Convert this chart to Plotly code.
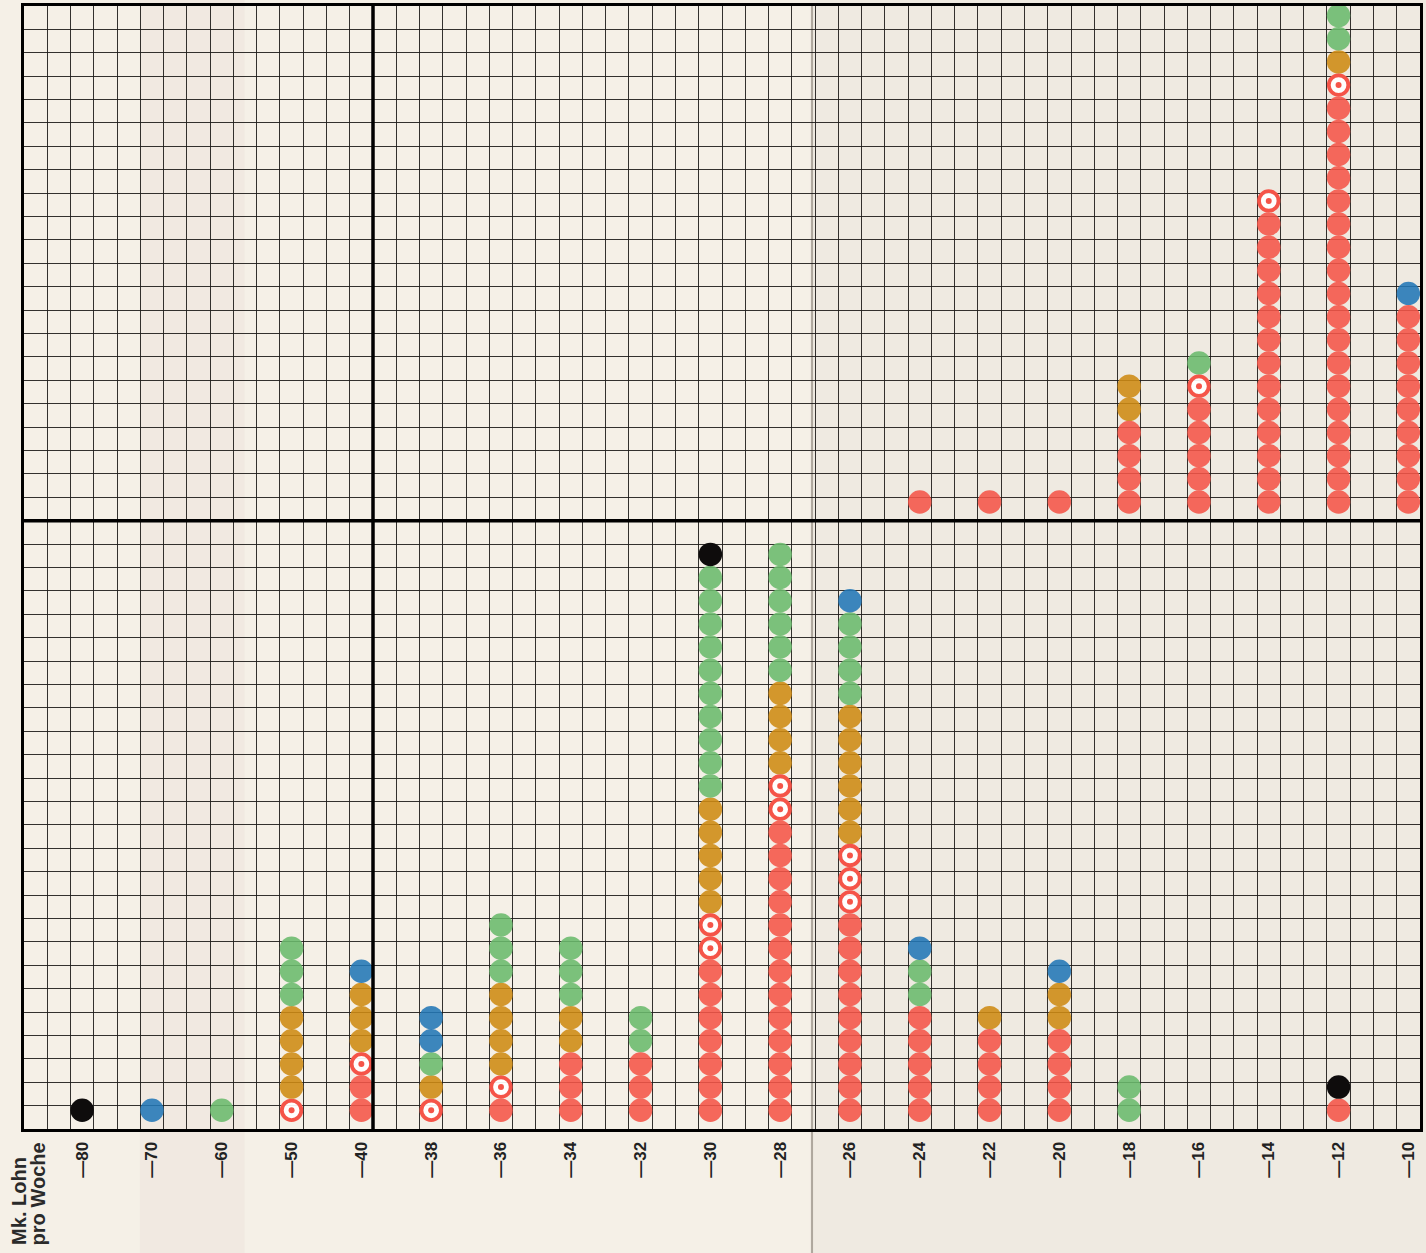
import plotly.graph_objects as go

# wage classes (Mk. per week), one column each
wages = ['80', '70', '60', '50', '40', '38', '36', '34', '32', '30',
         '28', '26', '24', '22', '20', '18', '16', '14', '12', '10']
tick_text = ['—' + w for w in wages]

# lower panel: number of dots per column, stacked bottom -> top in this order
low_red    = [0, 0, 0, 0, 2, 0, 1, 3, 3, 7, 13, 9, 5, 4, 4, 0, 0, 0, 1, 0]
low_ring   = [0, 0, 0, 1, 1, 1, 1, 0, 0, 2, 2, 3, 0, 0, 0, 0, 0, 0, 0, 0]
low_orange = [0, 0, 0, 4, 3, 1, 4, 2, 0, 5, 4, 6, 0, 1, 2, 0, 0, 0, 0, 0]
low_green  = [0, 0, 1, 3, 0, 1, 3, 3, 2, 10, 6, 4, 2, 0, 0, 2, 0, 0, 0, 0]
low_blue   = [0, 1, 0, 0, 1, 2, 0, 0, 0, 0, 0, 1, 1, 0, 1, 0, 0, 0, 0, 0]
low_black  = [1, 0, 0, 0, 0, 0, 0, 0, 0, 1, 0, 0, 0, 0, 0, 0, 0, 0, 1, 0]

# upper panel (stacks start on the heavy horizontal line)
up_red    = [0, 0, 0, 0, 0, 0, 0, 0, 0, 0, 0, 0, 1, 1, 1, 4, 5, 13, 18, 9]
up_ring   = [0, 0, 0, 0, 0, 0, 0, 0, 0, 0, 0, 0, 0, 0, 0, 0, 1, 1, 1, 0]
up_orange = [0, 0, 0, 0, 0, 0, 0, 0, 0, 0, 0, 0, 0, 0, 0, 2, 0, 0, 1, 0]
up_green  = [0, 0, 0, 0, 0, 0, 0, 0, 0, 0, 0, 0, 0, 0, 0, 0, 1, 0, 2, 0]
up_blue   = [0, 0, 0, 0, 0, 0, 0, 0, 0, 0, 0, 0, 0, 0, 0, 0, 0, 0, 0, 1]
up_black  = [0, 0, 0, 0, 0, 0, 0, 0, 0, 0, 0, 0, 0, 0, 0, 0, 0, 0, 0, 0]

RED = 'rgb(245,84,72)'
colors = {
    'red': RED,
    'ring': RED,
    'orange': 'rgb(206,138,18)',
    'green': 'rgb(106,186,108)',
    'blue': 'rgb(34,118,182)',
    'black': 'rgb(14,12,12)',
}
order = ['red', 'ring', 'orange', 'green', 'blue', 'black']

N_COLS, N_ROWS, SPLIT_COL, SPLIT_ROW = 60, 48, 15, 26
PITCH, LIFT = 0.99, 0.8
col_x = [2.5 + 3 * i for i in range(len(wages))]

panels = [
    (0, dict(red=low_red, ring=low_ring, orange=low_orange, green=low_green,
             blue=low_blue, black=low_black)),
    (SPLIT_ROW, dict(red=up_red, ring=up_ring, orange=up_orange, green=up_green,
                     blue=up_blue, black=up_black)),
]

pts = {k: ([], []) for k in order}
for base, counts in panels:
    for i, x in enumerate(col_x):
        k = 0
        for cat in order:
            for _ in range(counts[cat][i]):
                pts[cat][0].append(x)
                pts[cat][1].append(base + LIFT + k * PITCH)
                k += 1

fig = go.Figure()

for cat in ['orange', 'green', 'blue', 'red']:
    fig.add_trace(go.Scatter(
        x=pts[cat][0], y=pts[cat][1], mode='markers', name=cat,
        marker=dict(size=23.5, color=colors[cat], opacity=0.88, line=dict(width=0)),
        hoverinfo='skip'))

# ringed markers: white disc, red ring, red centre
fig.add_trace(go.Scatter(
    x=pts['ring'][0], y=pts['ring'][1], mode='markers', name='ring',
    marker=dict(size=19.5, color='rgba(255,255,255,0.92)', line=dict(color=RED, width=3.8)),
    hoverinfo='skip'))
fig.add_trace(go.Scatter(
    x=pts['ring'][0], y=pts['ring'][1], mode='markers', name='ring centre',
    marker=dict(size=6, color=RED, line=dict(width=0)), hoverinfo='skip'))

fig.add_trace(go.Scatter(
    x=pts['black'][0], y=pts['black'][1], mode='markers', name='black',
    marker=dict(size=23.5, color=colors['black'], line=dict(width=0)),
    hoverinfo='skip'))

# paper tones: right-hand page slightly greyer, faint pinkish band on the left
fig.add_shape(type='rect', xref='paper', yref='paper', x0=0.563, x1=1.01,
              y0=-0.12, y1=1.01, fillcolor='#efeae1', line_width=0, layer='below')
fig.add_shape(type='rect', xref='paper', yref='paper', x0=0.083, x1=0.158,
              y0=-0.12, y1=1.01, fillcolor='rgba(226,200,190,0.16)', line_width=0,
              layer='below')
fig.add_shape(type='line', xref='paper', yref='paper', x0=0.5645, x1=0.5645,
              y0=-0.12, y1=1.0, line=dict(color='rgba(110,100,90,0.5)', width=2),
              layer='below')

# heavy dividing lines
fig.add_shape(type='line', x0=SPLIT_COL, x1=SPLIT_COL, y0=0, y1=N_ROWS,
              line=dict(color='black', width=3.5), layer='above')
fig.add_shape(type='line', x0=0, x1=N_COLS, y0=SPLIT_ROW, y1=SPLIT_ROW,
              line=dict(color='black', width=3.5), layer='above')

label_font = dict(family='Liberation Sans, Arial, sans-serif', size=20,
                  color='#2a2a2a', weight='bold')
fig.add_annotation(text='Mk. Lohn', xref='paper', yref='paper', x=-0.0036, y=-0.105,
                   xanchor='center', yanchor='bottom', textangle=-90,
                   showarrow=False, font=label_font)
fig.add_annotation(text='pro Woche', xref='paper', yref='paper', x=0.010, y=-0.105,
                   xanchor='center', yanchor='bottom', textangle=-90,
                   showarrow=False, font=label_font)

grid = 'rgba(30,28,25,0.9)'
fig.update_xaxes(
    range=[0, N_COLS], tickmode='array', tickvals=col_x, ticktext=tick_text,
    tickangle=-90, ticks='', ticklabelstandoff=3,
    tickfont=dict(family='Liberation Sans, Arial, sans-serif', size=17,
                  color='#222', weight='bold'),
    showgrid=False, zeroline=False,
    minor=dict(tick0=0, dtick=1, showgrid=True, gridcolor=grid, gridwidth=1.2, ticks=''),
    showline=True, mirror=True, linecolor='black', linewidth=3)
fig.update_yaxes(
    range=[0, N_ROWS], tick0=0, dtick=1, showticklabels=False, ticks='',
    showgrid=True, gridcolor=grid, gridwidth=1.2, zeroline=False,
    showline=True, mirror=True, linecolor='black', linewidth=3)

fig.update_layout(
    width=1426, height=1253,
    margin=dict(l=24, r=6, t=3, b=124),
    paper_bgcolor='#f5f0e7', plot_bgcolor='rgba(0,0,0,0)',
    showlegend=False)

# drop the page's default body margin so the figure sits at the window origin
fig.write_html('out.html', config={'displayModeBar': False}, post_script=(
    "document.body.style.margin='0';"
    "document.body.style.background='#f5f0e7';"))
